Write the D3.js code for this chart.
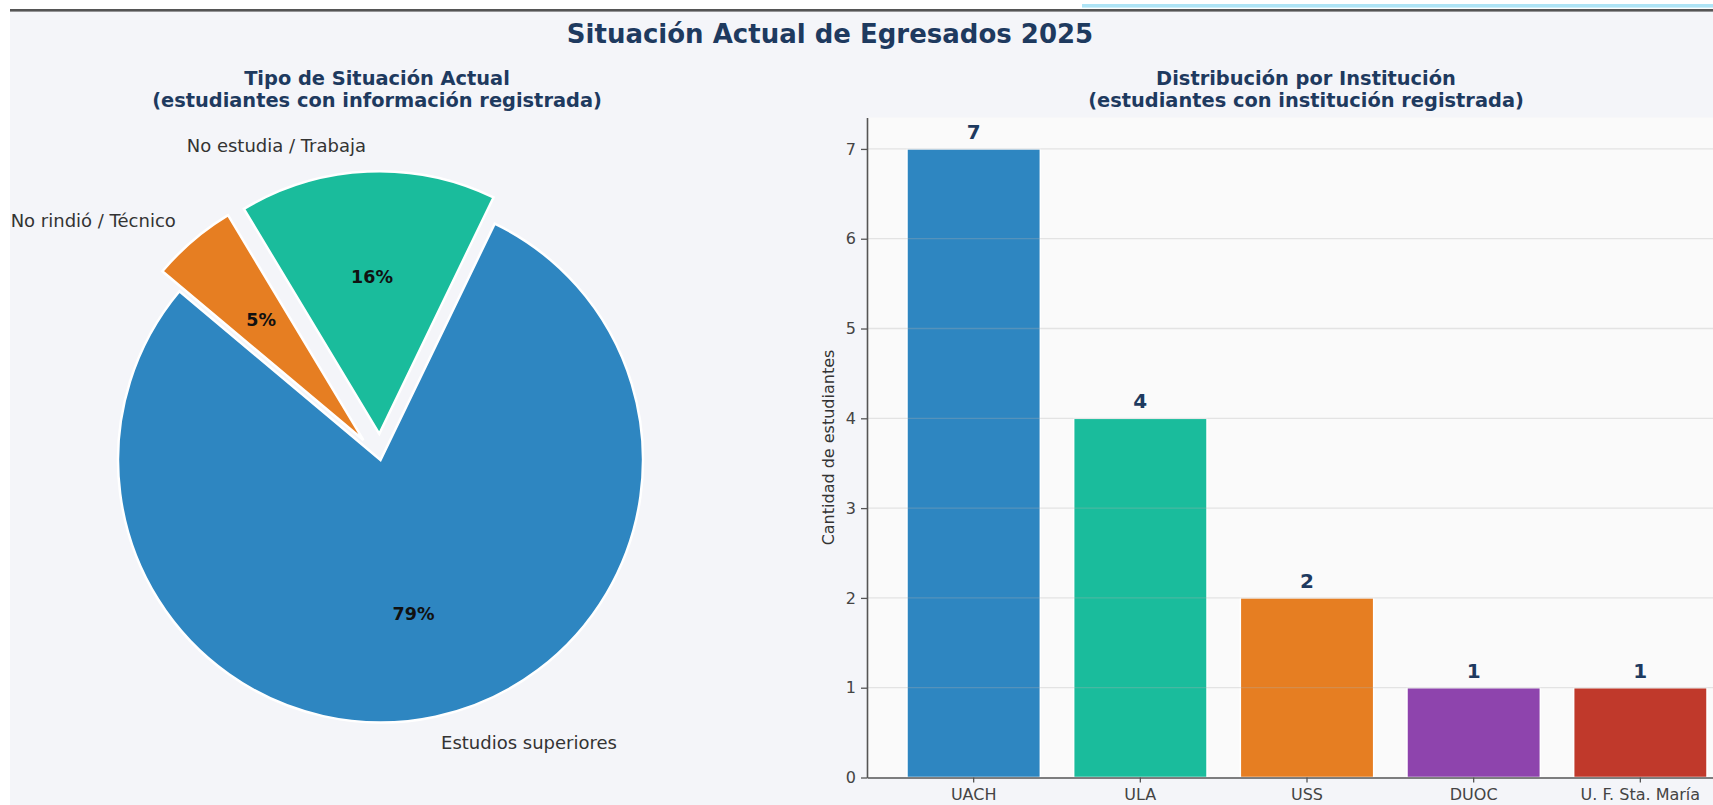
<!DOCTYPE html>
<html>
<head>
<meta charset="utf-8">
<script src="https://cdn.jsdelivr.net/npm/d3@7"></script>
<style>
body { margin: 0; background: #fff; }
text { font-family: 'DejaVu Sans', sans-serif; }
</style>
</head>
<body>
<div id="graf"></div>
<script>
// datos
const situaciones = ['Estudios superiores', 'No estudia / Trabaja', 'No rindió / Técnico']
const cantSituacion = [15, 3, 1]
const instituciones = ['UACH', 'ULA', 'USS', 'DUOC', 'U. F. Sta. María']
const cantInstitucion = [7, 4, 2, 1, 1]
const yTicks = [0, 1, 2, 3, 4, 5, 6, 7]

const coloresSit = ['#2e86c1', '#1abc9c', '#e67e22']
const coloresInst = ['#2e86c1', '#1abc9c', '#e67e22', '#8e44ad', '#c0392b']
const azulTitulo = '#1e3a5f'

const anchoTotal = 1713
const altoTotal = 805

const svg = d3.select('#graf')
  .append('svg')
  .attr('width', anchoTotal)
  .attr('height', altoTotal)

// fondo de la figura y bordes de arriba
svg.append('rect')
  .attr('x', 10).attr('y', 10)
  .attr('width', anchoTotal - 10).attr('height', altoTotal - 10)
  .attr('fill', '#f4f5f9')
svg.append('rect')
  .attr('x', 10).attr('y', 9)
  .attr('width', anchoTotal - 10).attr('height', 2.6)
  .attr('fill', '#555')
svg.append('rect')
  .attr('x', 1082).attr('y', 4)
  .attr('width', anchoTotal - 1082).attr('height', 3.6)
  .attr('fill', '#aee4f6')

svg.append('text')
  .attr('x', 830).attr('y', 43)
  .attr('text-anchor', 'middle')
  .attr('font-size', 26).attr('font-weight', 'bold')
  .attr('fill', azulTitulo)
  .text('Situación Actual de Egresados 2025')

function subtitulo(cx, l1, l2) {
  const t = svg.append('text')
    .attr('text-anchor', 'middle')
    .attr('font-size', 19.4).attr('font-weight', 'bold')
    .attr('fill', azulTitulo)
  t.append('tspan').attr('x', cx).attr('y', 85).text(l1)
  t.append('tspan').attr('x', cx).attr('y', 107).text(l2)
}
subtitulo(377, 'Tipo de Situación Actual', '(estudiantes con información registrada)')
subtitulo(1306, 'Distribución por Institución', '(estudiantes con institución registrada)')

// ---- torta ----
const centro = { x: 380.5, y: 460 }
const radio = 262.5
const explode = [0, 0.1, 0.1]
const total = d3.sum(cantSituacion)

// startangle 140 grados, sentido antihorario
const pie = d3.pie()
  .sort(null)
  .startAngle((90 - 140) * Math.PI / 180)
  .endAngle((90 - 140 - 360) * Math.PI / 180)

const arco = d3.arc().innerRadius(0).outerRadius(radio)
const medio = d => (d.startAngle + d.endAngle) / 2

const gPie = svg.append('g')
  .attr('transform', `translate(${centro.x}, ${centro.y})`)

const porciones = gPie.selectAll('g.porcion')
  .data(pie(cantSituacion))
  .enter()
  .append('g')
  .attr('class', 'porcion')
  .attr('transform', (d, i) =>
    `translate(${explode[i] * radio * Math.sin(medio(d))}, ${-explode[i] * radio * Math.cos(medio(d))})`)

porciones.append('path')
  .attr('d', arco)
  .attr('fill', (d, i) => coloresSit[i])
  .attr('stroke', '#fff')
  .attr('stroke-width', 2.5)

porciones.append('text')
  .attr('x', d => 1.1 * radio * Math.sin(medio(d)))
  .attr('y', d => -1.1 * radio * Math.cos(medio(d)))
  .attr('dy', '0.35em')
  .attr('text-anchor', d => Math.sin(medio(d)) > 0 ? 'start' : 'end')
  .attr('font-size', 18)
  .attr('fill', '#333')
  .text((d, i) => situaciones[i])

porciones.append('text')
  .attr('x', d => 0.6 * radio * Math.sin(medio(d)))
  .attr('y', d => -0.6 * radio * Math.cos(medio(d)))
  .attr('dy', '0.35em')
  .attr('text-anchor', 'middle')
  .attr('font-size', 17.5).attr('font-weight', 'bold')
  .attr('fill', '#111')
  .text(d => Math.round(d.value / total * 100) + '%')

// ---- barras ----
const ejeIzq = 867
const ejeDer = 1747
const ejeArriba = 117.5
const ejeAbajo = 777.5

const x = d3.scaleBand()
  .domain(instituciones)
  .range([ejeIzq, ejeDer])
  .paddingInner(0.2)
  .paddingOuter(0.24)

const y = d3.scaleLinear()
  .domain([0, d3.max(cantInstitucion) * 1.05])
  .range([ejeAbajo, ejeArriba])

svg.append('rect')
  .attr('x', ejeIzq).attr('y', ejeArriba)
  .attr('width', ejeDer - ejeIzq).attr('height', ejeAbajo - ejeArriba)
  .attr('fill', '#fafafa')

const datosBarras = instituciones.map((n, i) => ({ nombre: n, valor: cantInstitucion[i], color: coloresInst[i] }))

svg.selectAll('rect.barra')
  .data(datosBarras)
  .enter()
  .append('rect')
  .attr('class', 'barra')
  .attr('x', d => x(d.nombre))
  .attr('y', d => y(d.valor))
  .attr('width', x.bandwidth())
  .attr('height', d => y(0) - y(d.valor))
  .attr('fill', d => d.color)
  .attr('stroke', '#fff')
  .attr('stroke-width', 1.5)

// grilla encima de las barras, como en matplotlib
svg.selectAll('line.grilla')
  .data(yTicks.filter(t => t > 0))
  .enter()
  .append('line')
  .attr('class', 'grilla')
  .attr('x1', ejeIzq).attr('x2', ejeDer)
  .attr('y1', d => y(d)).attr('y2', d => y(d))
  .attr('stroke', '#b0b0b0')
  .attr('stroke-opacity', 0.3)
  .attr('stroke-width', 1.3)

svg.selectAll('text.valor')
  .data(datosBarras)
  .enter()
  .append('text')
  .attr('class', 'valor')
  .attr('x', d => x(d.nombre) + x.bandwidth() / 2)
  .attr('y', d => y(d.valor) - 10)
  .attr('text-anchor', 'middle')
  .attr('font-size', 20).attr('font-weight', 'bold')
  .attr('fill', azulTitulo)
  .text(d => d.valor)

const yAxisGroup = svg.append('g')
  .attr('transform', `translate(${ejeIzq}, 0)`)
  .call(d3.axisLeft(y).tickValues(yTicks).tickSize(6).tickSizeOuter(0).tickPadding(5))
const xAxisGroup = svg.append('g')
  .attr('transform', `translate(0, ${ejeAbajo})`)
  .call(d3.axisBottom(x).tickSize(5).tickSizeOuter(0).tickPadding(6))

;[yAxisGroup, xAxisGroup].forEach(g => {
  g.select('.domain').attr('stroke', '#555').attr('stroke-width', 1.6)
  g.selectAll('.tick line').attr('stroke', '#555').attr('stroke-width', 1.3)
  g.selectAll('.tick text')
    .attr('font-size', 16)
    .attr('font-family', "'DejaVu Sans', sans-serif")
    .attr('fill', '#444')
})

svg.append('text')
  .attr('transform', `translate(828, ${(ejeArriba + ejeAbajo) / 2}) rotate(-90)`)
  .attr('dy', '0.35em')
  .attr('text-anchor', 'middle')
  .attr('font-size', 16)
  .attr('fill', '#333')
  .text('Cantidad de estudiantes')
</script>
</body>
</html>
